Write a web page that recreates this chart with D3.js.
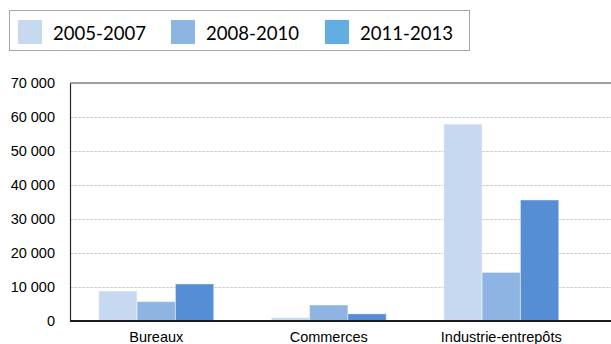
<!DOCTYPE html>
<html>
<head>
<meta charset="utf-8">
<script src="https://cdn.jsdelivr.net/npm/d3@7"></script>
<style>
  html, body { margin: 0; padding: 0; background: #fff; overflow: hidden; }
  svg { display: block; }
</style>
</head>
<body>
<svg id="chart" width="611" height="344"></svg>
<script>
// Surfaces by building type and period
const categories = ["Bureaux", "Commerces", "Industrie-entrepôts"];
const periods = ["2005-2007", "2008-2010", "2011-2013"];
const values2005 = [8800, 1000, 57900];
const values2008 = [5700, 4700, 14300];
const values2011 = [10900, 2100, 35600];
const yTicks = [0, 10000, 20000, 30000, 40000, 50000, 60000, 70000];

const barColors = ["#C6D9F1", "#8EB4E3", "#558ED5"];
const legendColors = ["#C6D9F1", "#8EB4E3", "#62AEE2"];

const series = [values2005, values2008, values2011];
const rows = categories.map((c, i) => ({
  category: c,
  values: periods.map((p, j) => ({ period: p, value: series[j][i], k: j }))
}));

const svg = d3.select("#chart");
const plotLeft = 70, plotRight = 587.5, plotTop = 83, plotBottom = 321, edge = 611;

const x = d3.scaleBand().domain(categories).range([plotLeft, plotRight])
  .paddingInner(1 / 3).paddingOuter(1 / 6);
const xs = d3.scaleBand().domain(periods).range([0, x.bandwidth()]);
const y = d3.scaleLinear().domain([0, 70000]).range([plotBottom, plotTop]);

const fmt = v => d3.format(",")(v).replace(/,/g, " ");

// Dashed gridlines
svg.append("g")
  .selectAll("line")
  .data(yTicks.filter(t => t > 0 && t < 70000))
  .join("line")
  .attr("x1", plotLeft).attr("x2", edge)
  .attr("y1", d => y(d)).attr("y2", d => y(d))
  .attr("stroke", "#CFCFCF").attr("stroke-width", 1)
  .attr("stroke-dasharray", "3,1")
  .attr("shape-rendering", "crispEdges");

// Bars
const groups = svg.append("g").selectAll("g")
  .data(rows).join("g")
  .attr("transform", d => `translate(${x(d.category)},0)`);

groups.selectAll("rect")
  .data(d => d.values)
  .join("rect")
  .attr("x", d => xs(d.period))
  .attr("width", xs.bandwidth())
  .attr("y", d => y(d.value))
  .attr("height", d => y(0) - y(d.value))
  .attr("fill", d => barColors[d.k])
  .attr("stroke", "rgba(255,255,255,0.45)")
  .attr("stroke-width", 1);

// Plot frame: top line and baseline
svg.append("line").attr("x1", plotLeft).attr("x2", edge).attr("y1", plotTop).attr("y2", plotTop)
  .attr("stroke", "#404040").attr("stroke-width", 1.2);
svg.append("line").attr("x1", plotLeft).attr("x2", edge).attr("y1", plotBottom).attr("y2", plotBottom)
  .attr("stroke", "#1a1a1a").attr("stroke-width", 2);

const yAxis = d3.axisLeft(y).tickValues(yTicks).tickFormat(fmt).tickSize(0).tickPadding(15);
const gy = svg.append("g").attr("transform", `translate(${plotLeft},0)`).call(yAxis);
gy.select(".domain").attr("stroke", "#262626").attr("stroke-width", 1.2);
gy.selectAll("text").attr("font-family", "Liberation Sans, Arial, sans-serif")
  .attr("font-size", "14.5px").attr("fill", "#000");

const xAxis = d3.axisBottom(x).tickSize(0).tickPadding(11);
const gx = svg.append("g").attr("transform", `translate(0,${plotBottom})`).call(xAxis);
gx.select(".domain").remove();
gx.selectAll("text").attr("font-family", "Liberation Sans, Arial, sans-serif")
  .attr("font-size", "14.5px").attr("fill", "#000");

// Legend
const legend = svg.append("g");
legend.append("rect").attr("x", 9.5).attr("y", 10.5).attr("width", 460).attr("height", 40)
  .attr("fill", "#fff").attr("stroke", "#A6A6A6").attr("stroke-width", 1);
const legendX = [18, 171, 325];
const items = legend.selectAll("g.item").data(periods).join("g")
  .attr("class", "item")
  .attr("transform", (d, i) => `translate(${legendX[i]},0)`);
items.append("rect").attr("x", 0).attr("y", 20).attr("width", 24).attr("height", 24)
  .attr("fill", (d, i) => legendColors[i]);
items.append("text").attr("x", 35).attr("y", 39.5)
  .attr("font-family", "Lato, 'Open Sans', sans-serif").attr("font-size", "20px")
  .attr("fill", "#000")
  .attr("textLength", 93).attr("lengthAdjust", "spacingAndGlyphs")
  .text(d => d);
</script>
</body>
</html>
